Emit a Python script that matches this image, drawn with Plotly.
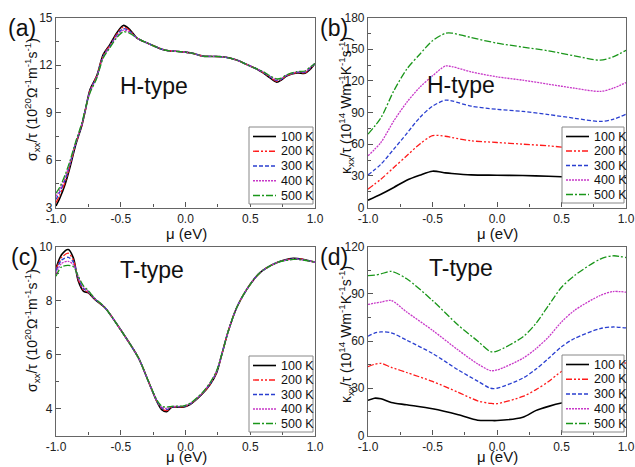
import plotly.graph_objects as go

temps = ["100 K", "200 K", "300 K", "400 K", "500 K"]
colors = ["#000000", "#ff1a1a", "#2a3fd0", "#c838c8", "#1a961a"]
dashes = ["solid", "6px,2px,2px,2px,2px,2px", "4px,2px", "2px,1px", "7px,2px,2px,2px"]

# (a) sigma/tau, H-type
mu_a = [-1.0, -0.97, -0.93, -0.89, -0.85, -0.8, -0.776, -0.737, -0.686, -0.635, -0.583,
        -0.531, -0.48, -0.43, -0.377, -0.3, -0.2, -0.145, -0.04, 0.05, 0.137, 0.29,
        0.4, 0.473, 0.55, 0.6, 0.65, 0.704, 0.74, 0.78, 0.86, 0.923, 0.96, 1.0]
sig_h_100 = [3.1, 3.6, 4.45, 5.6, 6.9, 8.2, 9.05, 10.45, 11.3, 12.67, 13.3,
             14.03, 14.5, 14.24, 13.72, 13.4, 13.05, 12.92, 12.84, 12.75, 12.56, 12.52,
             12.3, 12.03, 11.75, 11.5, 11.2, 10.92, 11.05, 11.3, 11.5, 11.48, 11.7, 12.1]
sig_h_200 = [3.3, 3.8, 4.6, 5.7, 6.95, 8.2, 9.05, 10.4, 11.3, 12.62, 13.25,
             13.95, 14.4, 14.18, 13.72, 13.4, 13.05, 12.92, 12.84, 12.75, 12.56, 12.52,
             12.3, 12.03, 11.75, 11.52, 11.24, 10.97, 11.08, 11.32, 11.52, 11.52, 11.74, 12.1]
sig_h_300 = [3.5, 4.0, 4.75, 5.8, 7.0, 8.25, 9.1, 10.35, 11.25, 12.55, 13.2,
             13.88, 14.3, 14.12, 13.72, 13.4, 13.05, 12.92, 12.84, 12.75, 12.56, 12.52,
             12.3, 12.03, 11.75, 11.54, 11.27, 11.02, 11.11, 11.34, 11.54, 11.55, 11.78, 12.1]
sig_h_400 = [3.7, 4.15, 4.9, 5.9, 7.05, 8.3, 9.1, 10.3, 11.2, 12.5, 13.15,
             13.8, 14.2, 14.06, 13.72, 13.4, 13.05, 12.92, 12.84, 12.75, 12.56, 12.52,
             12.3, 12.03, 11.75, 11.56, 11.3, 11.07, 11.14, 11.36, 11.56, 11.58, 11.82, 12.1]
sig_h_500 = [3.9, 4.3, 5.05, 6.0, 7.1, 8.35, 9.15, 10.25, 11.15, 12.45, 13.1,
             13.72, 14.1, 14.0, 13.72, 13.4, 13.05, 12.92, 12.84, 12.75, 12.56, 12.52,
             12.3, 12.03, 11.75, 11.58, 11.33, 11.12, 11.17, 11.38, 11.58, 11.62, 11.86, 12.1]

# (b) kappa/tau, H-type
mu_b = [-1.0, -0.9, -0.8, -0.7, -0.6, -0.5, -0.4, -0.35, -0.2, 0.0, 0.2, 0.4, 0.6, 0.8, 0.9, 1.0]
kap_h_100 = [6.9, 12.6, 19.0, 25.8, 30.5, 34.4, 32.8, 32.2, 30.9, 30.6, 30.3, 29.6, 28.5, 27.5, 27.8, 28.4]
kap_h_200 = [17.4, 26.8, 37.9, 49.0, 60.0, 68.0, 67.5, 66.3, 63.2, 61.6, 60.0, 58.4, 56.0, 53.5, 55.0, 58.0]
kap_h_300 = [30.9, 41.0, 55.3, 70.0, 85.0, 96.0, 101.7, 101.0, 96.0, 93.0, 91.0, 88.0, 84.6, 81.5, 83.6, 88.4]
kap_h_400 = [49.0, 61.6, 82.0, 99.5, 113.7, 124.7, 134.0, 133.5, 128.5, 123.8, 120.6, 116.8, 113.0, 110.0, 113.0, 118.4]
kap_h_500 = [69.5, 85.0, 110.5, 131.0, 145.0, 158.0, 165.0, 165.2, 161.0, 155.7, 152.0, 148.4, 143.7, 139.6, 142.7, 149.0]

# (c) sigma/tau, T-type
mu_c = [-1.0, -0.956, -0.905, -0.866, -0.828, -0.789, -0.75, -0.7, -0.635, -0.61, -0.493,
        -0.364, -0.287, -0.222, -0.184, -0.145, -0.107, -0.056, -0.02, 0.035, 0.125,
        0.19, 0.24, 0.28, 0.33, 0.395, 0.473, 0.575, 0.704, 0.832, 0.91, 1.0]
sig_t_100 = [9.2, 9.7, 9.89, 9.58, 8.72, 8.35, 8.28, 8.04, 7.79, 7.67, 6.86,
             5.88, 5.01, 4.27, 3.96, 3.88, 4.05, 4.05, 4.05, 4.15, 4.52,
             4.89, 5.32, 6.0, 6.86, 7.73, 8.41, 9.03, 9.4, 9.56, 9.52, 9.42]
sig_t_200 = [9.15, 9.6, 9.75, 9.5, 8.78, 8.4, 8.3, 8.05, 7.8, 7.67, 6.86,
             5.88, 5.01, 4.28, 3.99, 3.92, 4.05, 4.06, 4.06, 4.16, 4.53,
             4.9, 5.34, 6.0, 6.86, 7.73, 8.41, 9.03, 9.4, 9.55, 9.52, 9.42]
sig_t_300 = [9.1, 9.5, 9.6, 9.42, 8.83, 8.45, 8.32, 8.06, 7.8, 7.67, 6.86,
             5.88, 5.01, 4.29, 4.02, 3.96, 4.06, 4.07, 4.07, 4.17, 4.54,
             4.92, 5.36, 6.0, 6.86, 7.73, 8.41, 9.03, 9.4, 9.54, 9.51, 9.42]
sig_t_400 = [9.0, 9.38, 9.45, 9.33, 8.87, 8.5, 8.34, 8.07, 7.81, 7.67, 6.86,
             5.88, 5.01, 4.3, 4.05, 4.0, 4.07, 4.08, 4.08, 4.18, 4.55,
             4.94, 5.38, 6.0, 6.86, 7.73, 8.41, 9.03, 9.4, 9.53, 9.5, 9.42]
sig_t_500 = [8.9, 9.25, 9.3, 9.25, 8.9, 8.55, 8.36, 8.08, 7.81, 7.67, 6.86,
             5.88, 5.02, 4.32, 4.09, 4.05, 4.08, 4.09, 4.09, 4.19, 4.56,
             4.96, 5.4, 6.0, 6.86, 7.73, 8.41, 9.03, 9.4, 9.52, 9.5, 9.42]

# (d) kappa/tau, T-type
mu_d = [-1.0, -0.95, -0.9, -0.82, -0.7, -0.5, -0.3, -0.15, -0.05, 0.0, 0.2, 0.3, 0.4, 0.5, 0.6, 0.8, 0.9, 1.0]
kap_t_100 = [22.3, 23.7, 23.3, 21.0, 19.5, 17.0, 13.2, 9.7, 9.5, 9.5, 11.6, 15.8, 18.5, 20.6, 21.8, 23.0, 23.5, 24.0]
kap_t_200 = [43.7, 45.2, 45.8, 43.3, 40.0, 34.3, 27.4, 22.0, 20.4, 20.2, 24.8, 29.0, 34.3, 40.6, 44.0, 46.0, 46.5, 46.0]
kap_t_300 = [63.0, 65.0, 65.8, 65.2, 60.5, 52.1, 41.6, 34.5, 30.0, 30.0, 36.4, 42.0, 49.0, 56.3, 61.6, 67.9, 68.9, 68.3]
kap_t_400 = [83.2, 84.0, 84.7, 85.7, 78.4, 66.8, 54.2, 45.5, 41.2, 41.6, 49.0, 55.0, 62.6, 72.1, 79.4, 88.9, 91.4, 91.0]
kap_t_500 = [101.5, 101.8, 102.6, 104.2, 99.5, 85.7, 70.0, 60.0, 53.2, 53.6, 62.6, 71.0, 82.6, 94.1, 101.5, 112.0, 114.1, 113.0]

W, H = 635, 467
FONT = "Arial, Liberation Sans, sans-serif"

# pixel boxes of the four plot areas (left, right, top, bottom)
boxes = [(56, 315, 17.5, 207.5), (368, 626, 17.5, 207.5), (56, 315, 246.5, 435.5), (368, 626, 246.5, 435.5)]
# legend boxes (left, right, top, bottom)
legboxes = [(249, 313, 127, 204), (562, 624, 127, 203), (249, 313, 356, 432), (562, 624, 355, 432)]

panels = [
    (mu_a, [sig_h_100, sig_h_200, sig_h_300, sig_h_400, sig_h_500], [3, 15], [3, 6, 9, 12, 15], 1.5),
    (mu_b, [kap_h_100, kap_h_200, kap_h_300, kap_h_400, kap_h_500], [0, 180], [0, 30, 60, 90, 120, 150, 180], 15),
    (mu_c, [sig_t_100, sig_t_200, sig_t_300, sig_t_400, sig_t_500], [3, 10], [4, 6, 8, 10], 1),
    (mu_d, [kap_t_100, kap_t_200, kap_t_300, kap_t_400, kap_t_500], [0, 120], [0, 30, 60, 90, 120], 15),
]

fig = go.Figure()
layout = dict(width=W, height=H, margin=dict(l=0, r=0, t=0, b=0), paper_bgcolor="white",
              plot_bgcolor="white", font=dict(family=FONT, color="#222"), showlegend=False)

for k, (xs, series, yr, yv, ymin) in enumerate(panels):
    sfx = "" if k == 0 else str(k + 1)
    l, r, t, b = boxes[k]
    for i, ys in enumerate(series):
        fig.add_trace(go.Scatter(
            x=xs, y=ys, xaxis="x" + sfx, yaxis="y" + sfx, name=temps[i], mode="lines",
            line=dict(color=colors[i], dash=dashes[i], width=1.6 if i == 0 else 1.3,
                      shape="spline", smoothing=0.8),
        ))
    layout["xaxis" + sfx] = dict(
        domain=[l / W, r / W], anchor="y" + sfx, range=[-1, 1], automargin=False,
        tickvals=[-1, -0.5, 0, 0.5, 1], ticktext=["-1.0", "-0.5", "0.0", "0.5", "1.0"],
        ticks="inside", ticklen=5, tickcolor="#555", showline=True, linecolor="#666",
        linewidth=1.2, mirror=True, showgrid=False, zeroline=False,
        tickfont=dict(size=12, color="#222"),
        minor=dict(dtick=0.25, tick0=0, ticks="inside", ticklen=3, tickcolor="#555"))
    layout["yaxis" + sfx] = dict(
        domain=[1 - b / H, 1 - t / H], anchor="x" + sfx, range=yr, tickvals=yv, automargin=False,
        ticks="inside", ticklen=5, tickcolor="#555", showline=True, linecolor="#666",
        linewidth=1.2, mirror=True, showgrid=False, zeroline=False,
        tickfont=dict(size=12, color="#222"),
        minor=dict(dtick=ymin, tick0=yv[0], ticks="inside", ticklen=3, tickcolor="#555"))

fig.update_layout(**layout)

ann = []
shapes = []
def txt(x, y, t, size, angle=0, xanchor="center"):
    ann.append(dict(x=x / W, y=1 - y / H, xref="paper", yref="paper", text=t, showarrow=False,
                    font=dict(size=size, color="#111", family=FONT), textangle=angle,
                    xanchor=xanchor, yanchor="middle"))

# legends, drawn as a bordered box with line samples and labels
for (l, r, t, b) in legboxes:
    shapes.append(dict(type="rect", xref="paper", yref="paper", x0=l / W, x1=r / W,
                       y0=1 - b / H, y1=1 - t / H, fillcolor="white",
                       line=dict(color="#888", width=1), layer="above"))
    step = (b - t - 18) / 4
    for i in range(5):
        yy = t + 9.5 + i * step
        shapes.append(dict(type="line", xref="paper", yref="paper", x0=(l + 4) / W, x1=(l + 27) / W,
                           y0=1 - yy / H, y1=1 - yy / H, layer="above",
                           line=dict(color=colors[i], dash=dashes[i], width=1.6 if i == 0 else 1.3)))
        txt(l + 30, yy, temps[i], 12.5, xanchor="left")

txt(22, 28, "(a)", 23)
txt(334, 28, "(b)", 23)
txt(24, 257, "(c)", 23)
txt(334, 257, "(d)", 23)
txt(154, 86, "H-type", 23)
txt(461, 85, "H-type", 23)
txt(152, 270, "T-type", 23)
txt(461, 268, "T-type", 23)
sig_t = "σ<sub>xx</sub>/τ (10<sup>20</sup>Ω<sup>-1</sup>m<sup>-1</sup>s<sup>-1</sup>)"
kap_t = "κ<sub>xx</sub>/τ (10<sup>14</sup> Wm<sup>-1</sup>K<sup>-1</sup>s<sup>-1</sup>)"
txt(32, 100, sig_t, 14, -90)
txt(346, 106, kap_t, 14, -90)
txt(32, 331, sig_t, 14, -90)
txt(346, 335, kap_t, 14, -90)
txt(186, 233, "μ (eV)", 15)
txt(497, 233, "μ (eV)", 15)
txt(186, 456.5, "μ (eV)", 15)
txt(497, 456.5, "μ (eV)", 15)
fig.update_layout(annotations=ann, shapes=shapes)

fig.write_html("out.html", config={"displayModeBar": False},
               post_script="document.body.style.margin='0';document.body.style.overflow='hidden';")
